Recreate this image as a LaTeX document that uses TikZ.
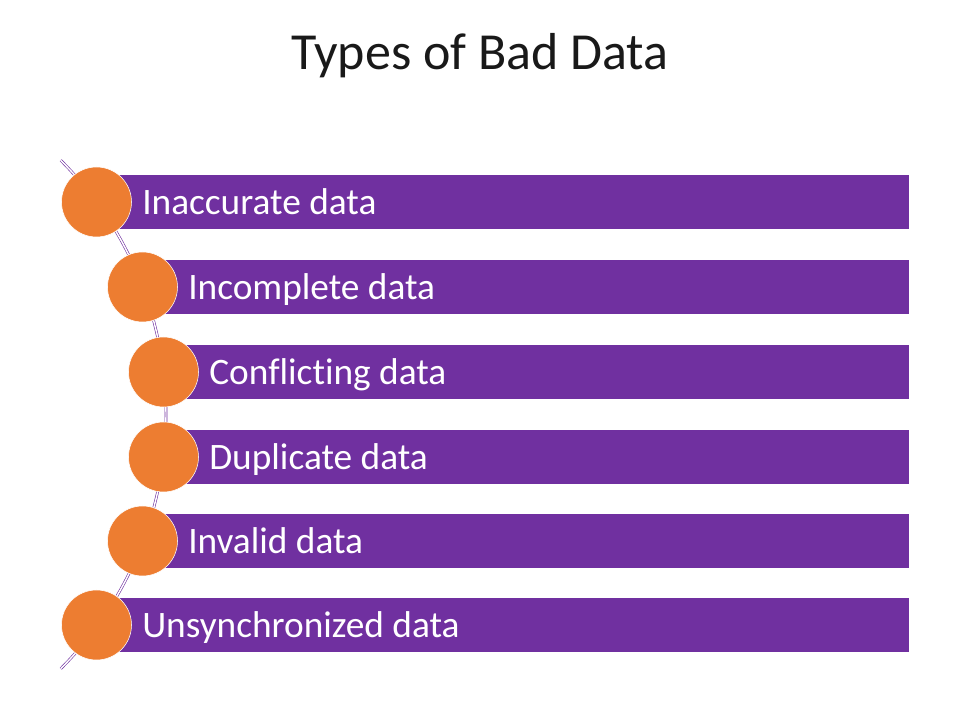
\documentclass[tikz,border=0pt]{standalone}
\usepackage{fontspec}
\setmainfont{Carlito}[Ligatures=NoCommon]
\usetikzlibrary{positioning}
\definecolor{barpurple}{HTML}{7030A0}
\definecolor{dotorange}{HTML}{ED7D31}

\begin{document}
\begin{tikzpicture}[x=0.75pt,y=0.75pt,
  bar/.style={fill=barpurple,minimum height=40.5pt,inner sep=0pt,anchor=west},
  dot/.style={circle,fill=dotorange,draw=white,line width=0.4pt,
    minimum size=52.5pt,inner sep=0pt},
  itemtext/.style={text=white,font=\fontsize{28}{32}\selectfont,
    anchor=base west,inner sep=0pt},
  spine/.style={draw=barpurple,double=white,double distance=1.1pt,line width=0.45pt}]
\useasboundingbox (0,0) rectangle (960,720);
\node[font=\fontsize{39}{46}\selectfont,text=black!90] (title) at (480,664) {Types of Bad Data};
\coordinate (hub) at (-193.5,305.5);
\draw[spine] (hub) ++(45:359.5) arc[start angle=45,end angle=-45,radius=359.5];
\foreach \cx/\cy/\name/\txt in {96.5/518/inacc/Inaccurate data,
    142.5/433/incompl/Incomplete data,163.5/348/confl/Conflicting data,
    163.5/263/dupl/Duplicate data,142.5/179/inval/Invalid data,
    96.5/95/unsync/Unsynchronized data}{
  \node[bar,minimum width={(909-\cx)*0.75pt}] (bar-\name) at (\cx,\cy) {};
  \node[itemtext] (txt-\name) at (\cx+45.5,\cy-13) {\txt};
  \node[dot] (dot-\name) at (\cx,\cy) {};
}
\end{tikzpicture}
\end{document}
